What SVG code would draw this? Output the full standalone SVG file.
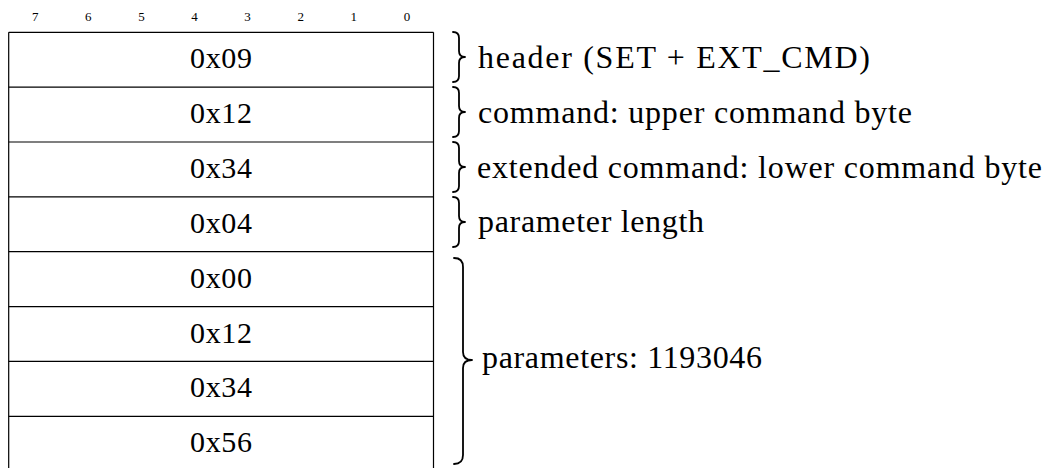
<svg xmlns="http://www.w3.org/2000/svg" width="1050" height="468" viewBox="0 0 1050 468">
<style>
.bit{font-family:"Liberation Serif",serif;font-size:13px;fill:#000;text-anchor:middle}
.val{font-family:"Liberation Serif",serif;font-size:30px;fill:#000;text-anchor:middle}
.lbl{font-family:"Liberation Serif",serif;font-size:32px;fill:#000}
.cell{fill:none;stroke:#000;stroke-width:1.2}
.brace{fill:none;stroke:#000;stroke-width:1.8;stroke-linecap:round;stroke-linejoin:round}
</style>
<rect width="1050" height="468" fill="#fff"/>
<g id="bits">
<text class="bit" x="35.2" y="21">7</text>
<text class="bit" x="88.3" y="21">6</text>
<text class="bit" x="141.4" y="21">5</text>
<text class="bit" x="194.5" y="21">4</text>
<text class="bit" x="247.6" y="21">3</text>
<text class="bit" x="300.7" y="21">2</text>
<text class="bit" x="353.8" y="21">1</text>
<text class="bit" x="406.9" y="21">0</text>
</g>
<g id="frame">
<line class="cell" x1="8.7" y1="32.3" x2="8.7" y2="470"/>
<line class="cell" x1="433.5" y1="32.3" x2="433.5" y2="470"/>
</g>
<g id="row0"><line class="cell" x1="8.7" y1="32.3" x2="433.5" y2="32.3"/><text class="val" x="221" y="68.2" textLength="62">0x09</text></g>
<g id="row1"><line class="cell" x1="8.7" y1="87.1" x2="433.5" y2="87.1"/><text class="val" x="221" y="123" textLength="62">0x12</text></g>
<g id="row2"><line class="cell" x1="8.7" y1="142" x2="433.5" y2="142"/><text class="val" x="221" y="178" textLength="62">0x34</text></g>
<g id="row3"><line class="cell" x1="8.7" y1="196.9" x2="433.5" y2="196.9"/><text class="val" x="221" y="233" textLength="62">0x04</text></g>
<g id="row4"><line class="cell" x1="8.7" y1="251.7" x2="433.5" y2="251.7"/><text class="val" x="221" y="287.7" textLength="62">0x00</text></g>
<g id="row5"><line class="cell" x1="8.7" y1="306.6" x2="433.5" y2="306.6"/><text class="val" x="221" y="342.6" textLength="62">0x12</text></g>
<g id="row6"><line class="cell" x1="8.7" y1="361.4" x2="433.5" y2="361.4"/><text class="val" x="221" y="397.4" textLength="62">0x34</text></g>
<g id="row7"><line class="cell" x1="8.7" y1="416.3" x2="433.5" y2="416.3"/><text class="val" x="221" y="452.3" textLength="62">0x56</text></g>
<g id="connectors">
<path class="brace" d="M453,32 Q459,32 459,38 L459,51 Q459,57 465,57 Q459,57 459,63 L459,76 Q459,82 453,82"/>
<path class="brace" d="M453,87 Q459,87 459,93 L459,106 Q459,112 465,112 Q459,112 459,118 L459,131 Q459,137 453,137"/>
<path class="brace" d="M453,142 Q459,142 459,148 L459,161 Q459,167 465,167 Q459,167 459,173 L459,186 Q459,192 453,192"/>
<path class="brace" d="M453,197 Q459,197 459,203 L459,216 Q459,222 465,222 Q459,222 459,228 L459,241 Q459,247 453,247"/>
<path class="brace" d="M454,258 Q463,258 463,267 L463,352 Q463,360 472,360 Q463,360 463,368 L463,455 Q463,464 454,464"/>
</g>
<g id="label0"><text class="lbl" x="478" y="67.7" textLength="392">header (SET + EXT_CMD)</text></g>
<g id="label1"><text class="lbl" x="478" y="122.6" textLength="434">command: upper command byte</text></g>
<g id="label2"><text class="lbl" x="477" y="177.5" textLength="565">extended command: lower command byte</text></g>
<g id="label3"><text class="lbl" x="478" y="232.4" textLength="226">parameter length</text></g>
<g id="label4"><text class="lbl" x="482" y="368.3" textLength="280">parameters: 1193046</text></g>
</svg>
